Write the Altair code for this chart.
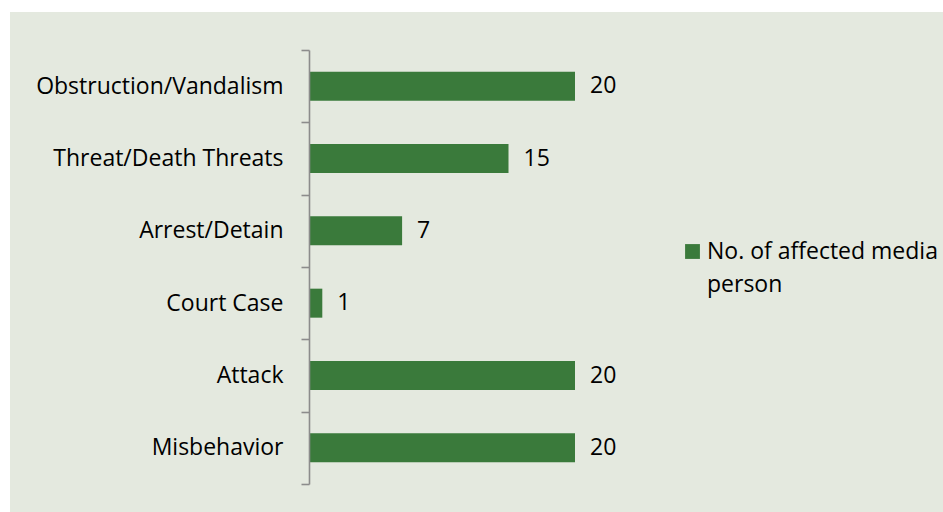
import altair as alt
import pandas as pd

categories = ["Obstruction/Vandalism", "Threat/Death Threats", "Arrest/Detain",
              "Court Case", "Attack", "Misbehavior"]
values = [20, 15, 7, 1, 20, 20]
series_name = "No. of affected media person"

df = pd.DataFrame({"category": categories, "value": values, "series": series_name})

FONT = "Open Sans"
FS = 23
BAR = "#3a7a3b"
PANEL = "#e4e9df"

panel = alt.Chart(alt.Data(values=[{}])).mark_rect(color=PANEL).encode(
    x=alt.value(-299), x2=alt.value(634), y=alt.value(-38), y2=alt.value(462)
)

y_enc = alt.Y("category:N", sort=categories, title=None,
              scale=alt.Scale(paddingInner=0, paddingOuter=0),
              axis=alt.Axis(domainColor="#8c8c8c", domainWidth=1.6, tickColor="#8c8c8c",
                            tickWidth=1.6, tickSize=8, tickBand="extent", labelFont=FONT,
                            labelFontSize=FS, labelColor="#000000", labelPadding=18,
                            labelLimit=400, zindex=1, grid=False))
x_enc = alt.X("value:Q", scale=alt.Scale(domain=[0, 20], nice=False), axis=None)

bars = alt.Chart(df).mark_bar(size=29).encode(
    y=y_enc, x=x_enc,
    color=alt.Color("series:N", scale=alt.Scale(range=[BAR]), title=None,
                    legend=alt.Legend(orient="none", legendX=372, legendY=190,
                                      symbolType="square", symbolSize=220,
                                      symbolStrokeWidth=0, labelFont=FONT,
                                      labelFontSize=FS, labelColor="#000000",
                                      labelOffset=3, labelLimit=400,
                                      labelExpr="['No. of affected media', 'person']"))
)

labels = alt.Chart(df).mark_text(align="left", baseline="middle", dx=15, font=FONT,
                                 fontSize=FS, color="#000000").encode(
    y=alt.Y("category:N", sort=categories), x=x_enc, text="value:Q"
)

chart = alt.layer(panel, bars, labels).properties(
    width=266, height=434,
    autosize=alt.AutoSizeParams(type="none"),
    padding={"left": 309, "top": 50, "right": 368, "bottom": 28},
    background="white",
).configure_view(stroke=None).configure(
    style={"guide-label": alt.MarkConfig(lineHeight=33)}
)

chart.save("out.html", embed_options={"renderer": "svg", "actions": False})
